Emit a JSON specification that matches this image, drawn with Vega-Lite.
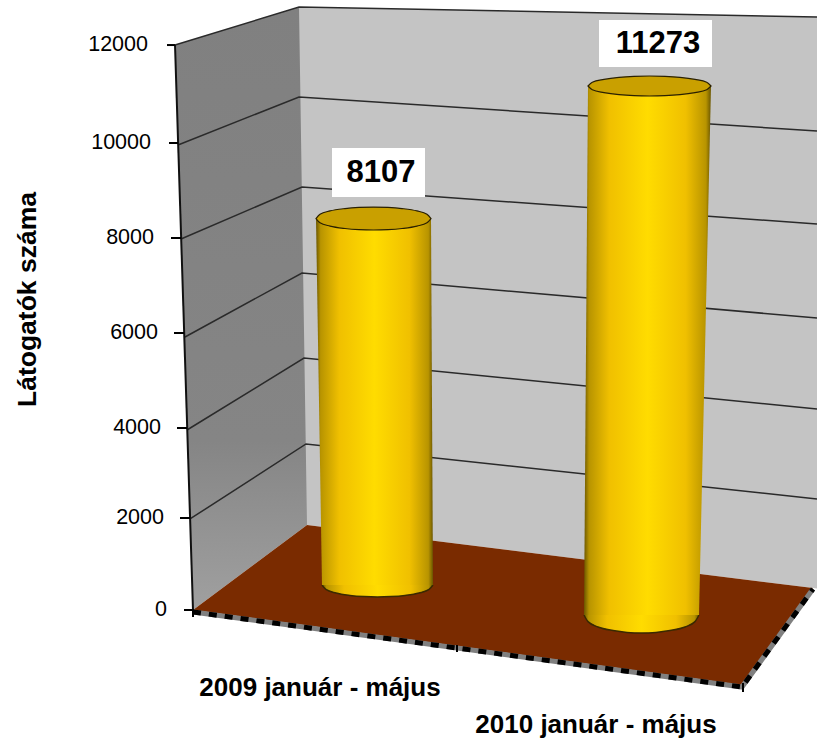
{"$schema":"https://vega.github.io/schema/vega-lite/v6.json","width":817,"height":740,"padding":0,"autosize":{"type":"none"},"background":"white","config":{"view":{"stroke":null},"font":"Liberation Sans"},
"encoding":{"x":{"field":"x","type":"quantitative","scale":{"domain":[0,817],"nice":false,"zero":false},"axis":null},
"y":{"field":"y","type":"quantitative","stack":false,"scale":{"domain":[-2761.3,12956.6],"nice":false,"zero":false},"axis":{"orient":"left","offset":-172,"values":[0,2000,4000,6000,8000,10000,12000],"grid":false,"domain":false,"ticks":false,"labels":false,"tickSize":0,"title":"Látogatók száma","titleFont":"Liberation Sans","titleFontSize":26.5,"titleFontWeight":"bold","titleColor":"#000","titleAngle":-90,"titleX":-145,"titleY":299,"titleAlign":"center","titleBaseline":"middle"}}},
"layer":[
{"data":{"values":[{"x":299,"y":12808,"y2":1827},{"x":817,"y":12595,"y2":457}]},"mark":{"type":"area","orient":"vertical","fill":"#c4c4c4"},"encoding":{"y2":{"field":"y2"}}},
{"data":{"values":[{"y":12808,"x":299,"x2":299},{"y":12000,"x":175,"x2":299.6},{"y":1805,"x":190.3,"x2":307},{"y":0,"x":193,"x2":193}]},"mark":{"type":"area","orient":"horizontal","fill":{"x1":0,"y1":0,"x2":0,"y2":1,"gradient":"linear","stops":[{"offset":0,"color":"#808080"},{"offset":0.72,"color":"#858585"},{"offset":1,"color":"#a0a0a0"}]}},"encoding":{"x2":{"field":"x2"}}},
{"data":{"values":[
{"s":"g12","x":175,"y":12000},{"s":"g12","x":299,"y":12808},{"s":"g12","x":817,"y":12595},
{"s":"g10","x":178,"y":9877},{"s":"g10","x":299,"y":10896},{"s":"g10","x":817,"y":10174},
{"s":"g8","x":181,"y":7880},{"s":"g8","x":302,"y":8985},{"s":"g8","x":817,"y":8199},
{"s":"g6","x":185,"y":5799},{"s":"g6","x":302,"y":7158},{"s":"g6","x":817,"y":6202},
{"s":"g4","x":187,"y":3823},{"s":"g4","x":304,"y":5352},{"s":"g4","x":817,"y":4269},
{"s":"g2","x":190,"y":1933},{"s":"g2","x":306,"y":3526},{"s":"g2","x":817,"y":2358}]},"mark":{"type":"line","stroke":"#2a2a2a","strokeWidth":1.5},"encoding":{"detail":{"field":"s"}}},
{"data":{"values":[{"x":193,"y":0,"y2":0},{"x":307,"y":1805,"y2":-331},{"x":742,"y":654,"y2":-1593},{"x":813,"y":467,"y2":467}]},"mark":{"type":"area","orient":"vertical","fill":"#7a2b00"},"encoding":{"y2":{"field":"y2"}}},
{"data":{"values":[{"s":"e","x":193,"y":-42},{"s":"e","x":742,"y":-1635},{"s":"e","x":813,"y":446}]},"mark":{"type":"line","stroke":"#808080","strokeWidth":5},"encoding":{"detail":{"field":"s"}}},
{"data":{"values":[{"s":"e","x":193,"y":-42},{"s":"e","x":742,"y":-1635},{"s":"e","x":813,"y":446}]},"mark":{"type":"line","stroke":"#000","strokeWidth":5,"strokeDash":[8,8]},"encoding":{"detail":{"field":"s"}}},
{"data":{"values":[{"s":"a","x":175,"y":12000},{"s":"a","x":193,"y":0}]},"mark":{"type":"line","stroke":"#111","strokeWidth":2},"encoding":{"detail":{"field":"s"}}},
{"data":{"values":[{"x":167,"x2":175,"y":12000},{"x":169,"x2":178,"y":9919},{"x":171,"x2":181,"y":7901},{"x":174,"x2":184,"y":5883},{"x":177,"x2":187,"y":3866},{"x":180,"x2":190,"y":1954},{"x":184,"x2":193,"y":0}]},"mark":{"type":"rule","stroke":"#000","strokeWidth":2},"encoding":{"x2":{"field":"x2"}}},
{"data":{"values":[{"x":193,"y":21,"y2":-149},{"x":457,"y":-743,"y2":-892},{"x":743,"y":-1551,"y2":-1742}]},"mark":{"type":"rule","stroke":"#000","strokeWidth":2},"encoding":{"y2":{"field":"y2"}}},
{"data":{"values":[{"x":148,"y":12000,"t":"12000"},{"x":151,"y":9919,"t":"10000"},{"x":154,"y":7901,"t":"8000"},{"x":158,"y":5883,"t":"6000"},{"x":161,"y":3866,"t":"4000"},{"x":164,"y":1954,"t":"2000"},{"x":167,"y":0,"t":"0"}]},"mark":{"type":"text","font":"Liberation Sans","fontSize":21.5,"align":"right","baseline":"middle","fill":"#000"},"encoding":{"text":{"field":"t"}}},
{"data":{"values":[{"x":322,"y":531,"y2":531},{"x":325.9,"y":531,"y2":437},{"x":336,"y":531,"y2":361},{"x":350,"y":531,"y2":310},{"x":364,"y":531,"y2":285},{"x":377.5,"y":531,"y2":276},{"x":391,"y":531,"y2":285},{"x":405,"y":531,"y2":310},{"x":419,"y":531,"y2":361},{"x":429.1,"y":531,"y2":437},{"x":433,"y":531,"y2":531}]},"mark":{"type":"area","orient":"vertical","fill":{"x1":0,"y1":0,"x2":1,"y2":0,"gradient":"linear","stops":[{"offset":0,"color":"#6a5600"},{"offset":0.04,"color":"#b89400"},{"offset":0.2,"color":"#f0c000"},{"offset":0.5,"color":"#ffdc00"},{"offset":0.8,"color":"#f0c000"},{"offset":0.96,"color":"#b89400"},{"offset":1,"color":"#6a5600"}]}},"encoding":{"y2":{"field":"y2"}}},
{"data":{"values":[{"x":584,"y":-106,"y2":-106},{"x":588,"y":-106,"y2":-247},{"x":598,"y":-106,"y2":-361},{"x":613,"y":-106,"y2":-437},{"x":627,"y":-106,"y2":-476},{"x":641.5,"y":-106,"y2":-488},{"x":656,"y":-106,"y2":-476},{"x":670,"y":-106,"y2":-437},{"x":685,"y":-106,"y2":-361},{"x":695,"y":-106,"y2":-247},{"x":699,"y":-106,"y2":-106}]},"mark":{"type":"area","orient":"vertical","fill":{"x1":0,"y1":0,"x2":1,"y2":0,"gradient":"linear","stops":[{"offset":0,"color":"#6a5600"},{"offset":0.04,"color":"#b89400"},{"offset":0.2,"color":"#f0c000"},{"offset":0.5,"color":"#ffdc00"},{"offset":0.8,"color":"#f0c000"},{"offset":0.96,"color":"#b89400"},{"offset":1,"color":"#6a5600"}]}},"encoding":{"y2":{"field":"y2"}}},
{"data":{"values":[{"s":"b1","x":322,"y":531},{"s":"b1","x":325.9,"y":437},{"s":"b1","x":336,"y":361},{"s":"b1","x":350,"y":310},{"s":"b1","x":364,"y":285},{"s":"b1","x":377.5,"y":276},{"s":"b1","x":391,"y":285},{"s":"b1","x":405,"y":310},{"s":"b1","x":419,"y":361},{"s":"b1","x":429.1,"y":437},{"s":"b1","x":433,"y":531},{"s":"b2","x":584,"y":-106},{"s":"b2","x":588,"y":-247},{"s":"b2","x":598,"y":-361},{"s":"b2","x":613,"y":-437},{"s":"b2","x":627,"y":-476},{"s":"b2","x":641.5,"y":-488},{"s":"b2","x":656,"y":-476},{"s":"b2","x":670,"y":-437},{"s":"b2","x":685,"y":-361},{"s":"b2","x":695,"y":-247},{"s":"b2","x":699,"y":-106}]},"mark":{"type":"line","stroke":"#3a2a00","strokeWidth":1.5,"interpolate":"monotone"},"encoding":{"detail":{"field":"s"}}},
{"data":{"values":[{"y":8315,"x":316,"x2":431},{"y":531,"x":322,"x2":433}]},"mark":{"type":"area","orient":"horizontal","fill":{"x1":0,"y1":0,"x2":1,"y2":0,"gradient":"linear","stops":[{"offset":0,"color":"#6a5600"},{"offset":0.04,"color":"#b89400"},{"offset":0.2,"color":"#f0c000"},{"offset":0.5,"color":"#ffdc00"},{"offset":0.8,"color":"#f0c000"},{"offset":0.96,"color":"#b89400"},{"offset":1,"color":"#6a5600"}]}},"encoding":{"x2":{"field":"x2"}}},
{"data":{"values":[{"y":11130,"x":588,"x2":711},{"y":-106,"x":584,"x2":699}]},"mark":{"type":"area","orient":"horizontal","fill":{"x1":0,"y1":0,"x2":1,"y2":0,"gradient":"linear","stops":[{"offset":0,"color":"#6a5600"},{"offset":0.04,"color":"#b89400"},{"offset":0.2,"color":"#f0c000"},{"offset":0.5,"color":"#ffdc00"},{"offset":0.8,"color":"#f0c000"},{"offset":0.96,"color":"#b89400"},{"offset":1,"color":"#6a5600"}]}},"encoding":{"x2":{"field":"x2"}}},
{"data":{"values":[{"x":316,"y":8315,"y2":8315},{"x":320,"y":8405,"y2":8225},{"x":330,"y":8476,"y2":8154},{"x":345,"y":8527,"y2":8103},{"x":359,"y":8551,"y2":8079},{"x":373.5,"y":8559,"y2":8071},{"x":388,"y":8551,"y2":8079},{"x":402,"y":8527,"y2":8103},{"x":417,"y":8476,"y2":8154},{"x":427,"y":8405,"y2":8225},{"x":431,"y":8315,"y2":8315}]},"mark":{"type":"area","orient":"vertical","fill":"#c9a000","stroke":"#2a2000","strokeWidth":1.2,"interpolate":"monotone"},"encoding":{"y2":{"field":"y2"}}},
{"data":{"values":[{"x":588,"y":11130,"y2":11130},{"x":592.3,"y":11209,"y2":11051},{"x":604,"y":11270,"y2":10990},{"x":619,"y":11315,"y2":10945},{"x":634,"y":11336,"y2":10924},{"x":649.5,"y":11342,"y2":10918},{"x":665,"y":11336,"y2":10924},{"x":680,"y":11315,"y2":10945},{"x":695,"y":11270,"y2":10990},{"x":706.7,"y":11209,"y2":11051},{"x":711,"y":11130,"y2":11130}]},"mark":{"type":"area","orient":"vertical","fill":"#c9a000","stroke":"#2a2000","strokeWidth":1.2,"interpolate":"monotone"},"encoding":{"y2":{"field":"y2"}}},
{"data":{"values":[{"x":332,"x2":425,"y":9813,"y2":8772},{"x":599,"x2":712,"y":12532,"y2":11533}]},"mark":{"type":"rect","fill":"#fff"},"encoding":{"x2":{"field":"x2"},"y2":{"field":"y2"}}},
{"data":{"values":[{"x":381,"y":9282,"t":"8107"},{"x":658,"y":12022,"t":"11273"}]},"mark":{"type":"text","font":"Liberation Sans","fontWeight":"bold","fontSize":31,"align":"center","baseline":"middle","fill":"#000"},"encoding":{"text":{"field":"t"}}},
{"data":{"values":[{"x":320,"y":-1657,"t":"2009 január - május"},{"x":596,"y":-2443,"t":"2010 január - május"}]},"mark":{"type":"text","font":"Liberation Sans","fontWeight":"bold","fontSize":26,"align":"center","baseline":"middle","fill":"#000"},"encoding":{"text":{"field":"t"}}}
]}
